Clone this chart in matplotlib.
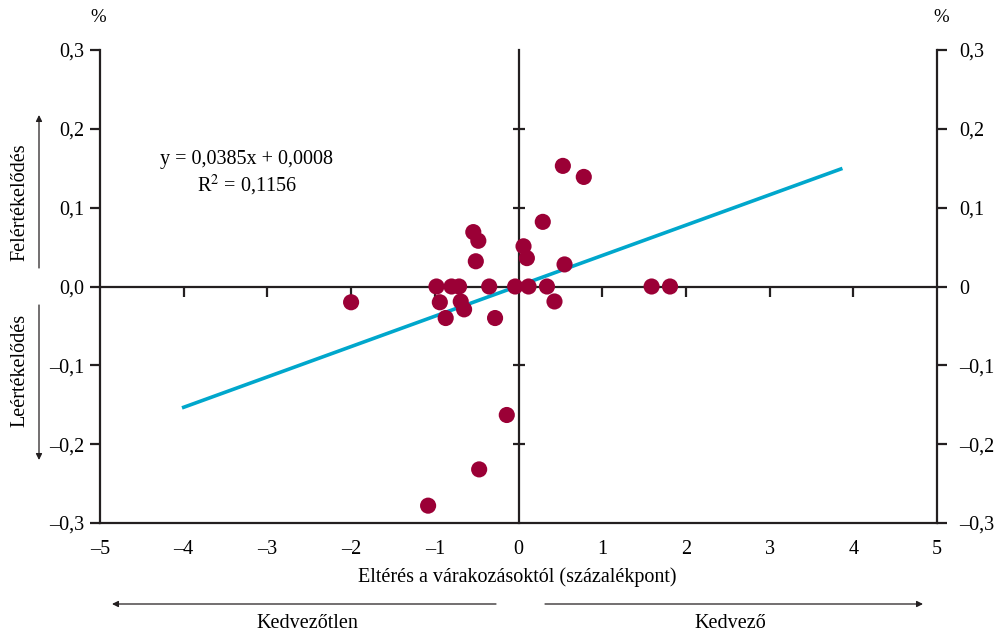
import numpy as np
import matplotlib
matplotlib.use('Agg')
import matplotlib.pyplot as plt

plt.rcParams['font.family'] = ['Liberation Serif', 'DejaVu Serif']
plt.rcParams['mathtext.fontset'] = 'stix'

# eltérés a várakozásoktól (százalékpont) és árfolyamváltozás (%)
x_dev = [-2.00, -0.98, -0.94, -0.87, -0.80, -0.71, -0.69, -0.65, -0.54, -0.48,
         -0.51, -0.35, -0.28, -0.04, 0.06, 0.10, 0.12, 0.29, 0.34, 0.43,
         0.55, 0.53, 0.78, 1.59, 1.81, -0.14, -0.47, -1.08]
y_chg = [-0.020, 0.0, -0.020, -0.040, 0.0, 0.0, -0.019, -0.029, 0.069, 0.058,
         0.032, 0.0, -0.040, 0.0, 0.051, 0.036, 0.0, 0.082, 0.0, -0.019,
         0.028, 0.153, 0.139, 0.0, 0.0, -0.163, -0.232, -0.278]

slope = 0.0385
intercept = 0.0008
fit_range = [-4.0, 3.85]

x_ticks = [-5, -4, -3, -2, -1, 0, 1, 2, 3, 4, 5]
x_labels = ['\u20135', '\u20134', '\u20133', '\u20132', '\u20131', '0', '1', '2', '3', '4', '5']
y_ticks = [0.3, 0.2, 0.1, 0.0, -0.1, -0.2, -0.3]
y_labels_left = ['0,3', '0,2', '0,1', '0,0', '\u20130,1', '\u20130,2', '\u20130,3']
y_labels_right = ['0,3', '0,2', '0,1', '0', '\u20130,1', '\u20130,2', '\u20130,3']

DOT = '#9b0036'
LINE = '#00a7cc'
AX = '#231f20'
FS = 14.5

W, H = 995, 635
fig = plt.figure(figsize=(W / 100, H / 100), dpi=100)
rect = [100 / W, 1 - 523 / H, (937 - 100) / W, (523 - 50) / H]


def fx(px):
    return px / W


def fy(py):
    return 1 - py / H


# outer axes: labels on left, right and bottom
ax = fig.add_axes(rect)
ax.set_xlim(-5, 5)
ax.set_ylim(-0.3, 0.3)
ax.spines['top'].set_visible(False)
for s in ['left', 'right', 'bottom']:
    ax.spines[s].set_linewidth(1.6)
    ax.spines[s].set_color(AX)
ax.set_xticks(x_ticks)
ax.set_xticklabels(x_labels, fontsize=FS)
ax.set_yticks(y_ticks)
ax.set_yticklabels(y_labels_left, fontsize=FS)
ax.tick_params(axis='y', direction='out', length=7, width=1.6, color=AX, pad=4)
ax.tick_params(axis='x', length=0, pad=12)

axr = ax.twinx()
axr.set_ylim(-0.3, 0.3)
axr.set_yticks(y_ticks)
axr.set_yticklabels(y_labels_right, fontsize=FS)
axr.tick_params(axis='y', direction='out', length=7, width=1.6, color=AX, pad=9)
for s in ['left', 'right', 'bottom', 'top']:
    axr.spines[s].set_visible(False)

# inner axes crossing at zero
axc = fig.add_axes(rect, frameon=True)
axc.patch.set_alpha(0)
axc.set_xlim(-5, 5)
axc.set_ylim(-0.3, 0.3)
axc.spines['top'].set_visible(False)
axc.spines['right'].set_visible(False)
axc.spines['left'].set_position(('data', 0))
axc.spines['bottom'].set_position(('data', 0))
for s in ['left', 'bottom']:
    axc.spines[s].set_linewidth(1.6)
    axc.spines[s].set_color(AX)
axc.set_xticks([t for t in x_ticks if t not in (-5, 0, 5)])
axc.set_yticks([t for t in y_ticks if t not in (0.0, 0.3, -0.3)])
axc.tick_params(axis='x', direction='out', length=7, width=1.6, color=AX, labelbottom=False)
axc.tick_params(axis='y', direction='inout', length=8, width=1.6, color=AX, labelleft=False)

fx_line = np.array(fit_range)
axc.plot(fx_line, slope * fx_line + intercept, color=LINE, lw=2.6, zorder=3)
axc.scatter(x_dev, y_chg, s=135, color=DOT, edgecolors='none', zorder=4)

axc.text(-3.25, 0.161, 'y = 0,0385x + 0,0008', ha='center', va='center', fontsize=FS)
axc.text(-3.25, 0.128, 'R$^{2}$ = 0,1156', ha='center', va='center', fontsize=FS)

fig.text(fx(98), fy(18), '%', ha='center', va='center', fontsize=13.5)
fig.text(fx(941), fy(18), '%', ha='center', va='center', fontsize=13.5)

fig.text(fx(517), fy(577), 'Eltérés a várakozásoktól (százalékpont)', ha='center', va='center', fontsize=FS)
fig.text(fx(307), fy(624), 'Kedvezőtlen', ha='center', va='center', fontsize=FS)
fig.text(fx(730), fy(624), 'Kedvező', ha='center', va='center', fontsize=FS)

fig.text(fx(20), fy(202), 'Felértékelődés', rotation=90, ha='center', va='center', fontsize=FS)
fig.text(fx(20), fy(370), 'Leértékelődés', rotation=90, ha='center', va='center', fontsize=FS)

arrow = dict(arrowstyle='-|>', color=AX, lw=0.9, mutation_scale=9, shrinkA=0, shrinkB=0)
fig.add_artist(matplotlib.patches.FancyArrowPatch((fx(39), fy(268)), (fx(39), fy(115)),
                                                  transform=fig.transFigure, **arrow))
fig.add_artist(matplotlib.patches.FancyArrowPatch((fx(39), fy(305)), (fx(39), fy(460)),
                                                  transform=fig.transFigure, **arrow))
fig.add_artist(matplotlib.patches.FancyArrowPatch((fx(496), fy(604)), (fx(112), fy(604)),
                                                  transform=fig.transFigure, **arrow))
fig.add_artist(matplotlib.patches.FancyArrowPatch((fx(545), fy(604)), (fx(923), fy(604)),
                                                  transform=fig.transFigure, **arrow))

fig.savefig('out.png', dpi=100)
